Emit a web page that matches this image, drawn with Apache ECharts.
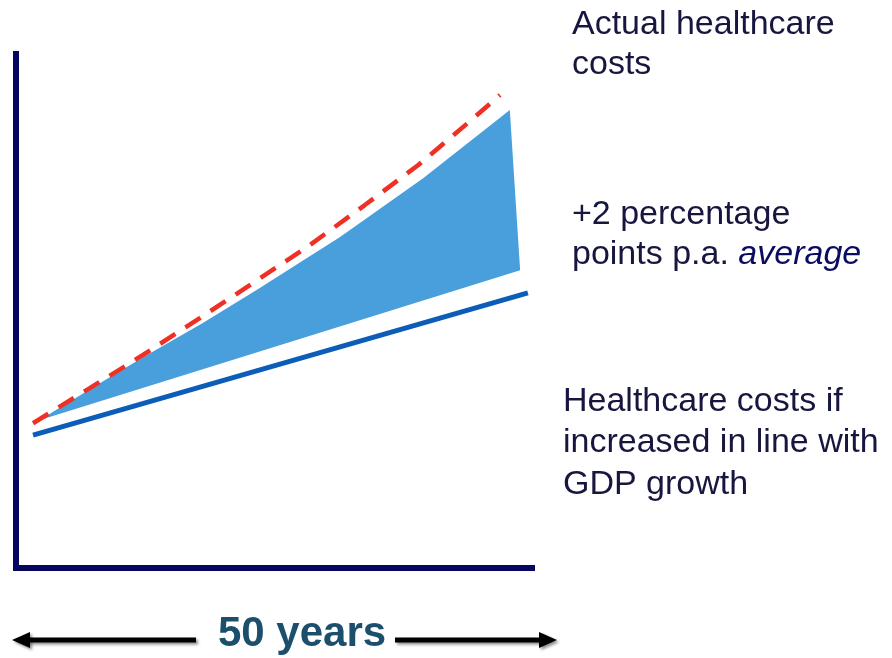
<!DOCTYPE html>
<html>
<head>
<meta charset="utf-8">
<script src="https://cdn.jsdelivr.net/npm/echarts@6/dist/echarts.min.js"></script>
<style>
  html, body { margin: 0; padding: 0; background: #ffffff; }
  #chart { width: 892px; height: 658px; }
</style>
</head>
<body>
<div id="chart"></div>
<script>
// Horizontal position (0..100 = the 50-year span drawn), vertical = cost index (0..100)
const gdpLine = [[3.3, 25.7], [99.2, 53.2]];
const actualCosts = [[3.3, 28.0], [14.3, 34.8], [24.6, 41.2], [35.7, 48.4], [45.9, 55.1], [57.0, 62.5], [67.6, 70.2], [77.9, 77.9], [87.6, 86.1], [93.8, 91.5]];
const gapTop = [[4.5, 28.6], [18.8, 37.3], [25.4, 41.2], [36.2, 47.4], [46.7, 53.8], [62.8, 64.0], [78.9, 75.4], [95.7, 88.6]];
const gapBottom = [[97.7, 57.6]];

const labelActual = ['Actual healthcare', 'costs'];
const labelGap = ['+2 percentage', 'points p.a. {i|average}'];
const labelGdp = ['Healthcare costs if', 'increased in line with', 'GDP growth'];
const labelSpan = '50 years';

const textColor = '#16163f';
const font = '34px "Liberation Sans", Arial, sans-serif';

function textLines(lines, x, baselines) {
  return lines.map((t, i) => ({
    type: 'text',
    silent: true,
    style: {
      text: t, x: x, y: baselines[i] - 10.5,
      font: font, fill: textColor, verticalAlign: 'middle', align: 'left',
      rich: { i: { fontStyle: 'italic', fill: '#0b0b62', font: 'italic 34px "Liberation Sans", Arial, sans-serif' } }
    }
  }));
}

const arrowStyle = { fill: '#000000', shadowBlur: 3, shadowColor: 'rgba(0,0,0,0.45)', shadowOffsetX: 2, shadowOffsetY: 2 };
const ay = 640;

const chart = echarts.init(document.getElementById('chart'));
chart.setOption({
  animation: false,
  grid: { left: 16, right: 360, top: 51, bottom: 90 },
  xAxis: {
    type: 'value', min: 0, max: 100,
    axisLine: { show: true, lineStyle: { color: '#06065e', width: 6, cap: 'square' } },
    axisTick: { show: false }, axisLabel: { show: false }, splitLine: { show: false }
  },
  yAxis: {
    type: 'value', min: 0, max: 100,
    axisLine: { show: true, lineStyle: { color: '#06065e', width: 6, cap: 'butt' } },
    axisTick: { show: false }, axisLabel: { show: false }, splitLine: { show: false }
  },
  series: [
    {
      type: 'custom',
      data: [[0, 0]],
      clip: false,
      z: 1,
      renderItem: function (params, api) {
        const pts = gapTop.concat(gapBottom).map(p => api.coord(p));
        return { type: 'polygon', shape: { points: pts }, style: { fill: '#489fdc' } };
      }
    },
    {
      type: 'line',
      data: gdpLine,
      symbol: 'none',
      z: 3,
      lineStyle: { color: '#0b5db7', width: 5 }
    },
    {
      type: 'line',
      data: actualCosts,
      symbol: 'none',
      z: 4,
      lineStyle: { color: '#ee3124', width: 4.5, type: [18, 12] }
    }
  ],
  graphic: [
    ...textLines(labelActual, 572, [35, 75]),
    ...textLines(labelGap, 572, [225, 265]),
    ...textLines(labelGdp, 563, [412, 453, 495]),
    {
      type: 'text', silent: true,
      style: { text: labelSpan, x: 302, y: 649 - 15, font: 'bold 42px "Liberation Sans", Arial, sans-serif', fill: '#1b4f6c', align: 'center', verticalAlign: 'middle' }
    },
    { type: 'rect', shape: { x: 28, y: ay - 2.5, width: 168, height: 5 }, style: arrowStyle },
    { type: 'polygon', shape: { points: [[12, ay], [30, ay - 8], [30, ay + 8]] }, style: arrowStyle },
    { type: 'rect', shape: { x: 395, y: ay - 2.5, width: 146, height: 5 }, style: arrowStyle },
    { type: 'polygon', shape: { points: [[557, ay], [539, ay - 8], [539, ay + 8]] }, style: arrowStyle }
  ]
});
</script>
</body>
</html>
